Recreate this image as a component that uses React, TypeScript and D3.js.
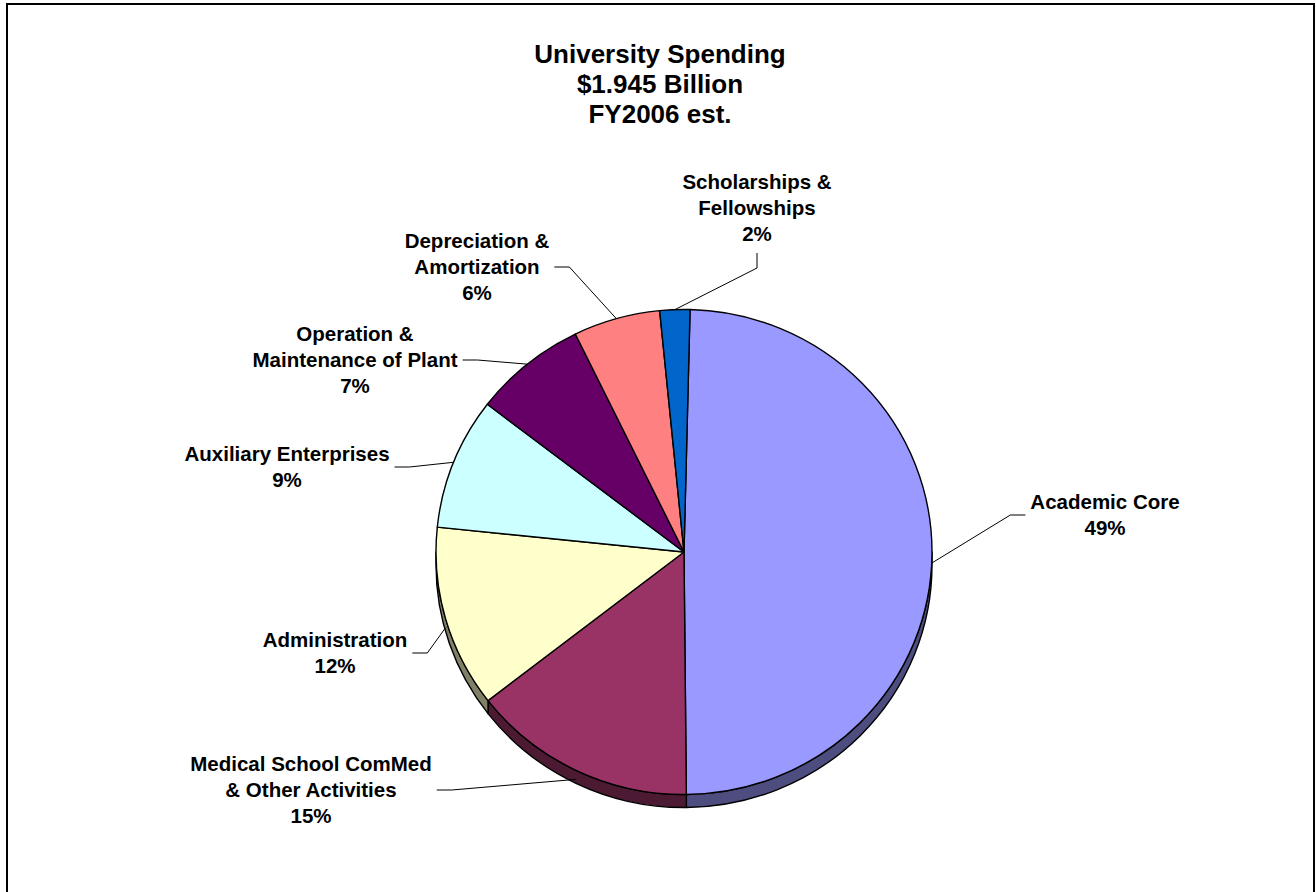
import React from "react";
import * as d3 from "d3";

// ---------- data ----------
const titleLines = ["University Spending", "$1.945 Billion", "FY2006 est."];
const categories = [
  "Academic Core",
  "Medical School ComMed & Other Activities",
  "Administration",
  "Auxiliary Enterprises",
  "Operation & Maintenance of Plant",
  "Depreciation & Amortization",
  "Scholarships & Fellowships",
];
const categoryLines = [
  ["Academic Core"],
  ["Medical School ComMed", "& Other Activities"],
  ["Administration"],
  ["Auxiliary Enterprises"],
  ["Operation &", "Maintenance of Plant"],
  ["Depreciation &", "Amortization"],
  ["Scholarships &", "Fellowships"],
];
// spending in $ millions (total $1,945M)
const spendingMillions = [962, 285, 236, 171, 143, 110, 38];
const sliceColors = ["#9999FF", "#993366", "#FFFFCC", "#CCFFFF", "#660066", "#FF8080", "#0066CC"];

// ---------- layout (not data) ----------
const W = 1316;
const H = 892;
const CX = 684;
const CY = 552;
const RX = 248;
const RY = 242.5;
const DEPTH = 13;
const FIRST_SLICE_ANGLE = (1.4 * Math.PI) / 180;
const LABEL_FONT = 20.5;
const LABEL_LINE = 26;
const TITLE_FONT = 26;
const TITLE_LINE = 30;
const FONT = "'Liberation Sans', Arial, Helvetica, sans-serif";
// label block centre offsets from pie centre, and side the leader leaves from
const labelLayout: { dx: number; dy: number; side: "left" | "right" | "bottom" }[] = [
  { dx: 421, dy: -37, side: "left" },
  { dx: -373, dy: 238, side: "right" },
  { dx: -349, dy: 101, side: "right" },
  { dx: -397, dy: -85, side: "right" },
  { dx: -329, dy: -192, side: "right" },
  { dx: -207, dy: -285, side: "right" },
  { dx: 73, dy: -344, side: "bottom" },
];

function pt(theta: number, dy = 0): [number, number] {
  return [CX + RX * Math.sin(theta), CY - RY * Math.cos(theta) + dy];
}

function darken(c: string, k: number) {
  const r = d3.rgb(c);
  return d3.rgb(r.r * k, r.g * k, r.b * k).formatHex();
}

let ctx: CanvasRenderingContext2D | null = null;
function textWidth(s: string, size: number) {
  if (!ctx) {
    const cv = document.createElement("canvas");
    ctx = cv.getContext("2d");
  }
  if (!ctx) return s.length * size * 0.6;
  ctx.font = `bold ${size}px ${FONT}`;
  return ctx.measureText(s).width;
}

export default function App() {
  const total = d3.sum(spendingMillions);
  const pie = d3
    .pie<number>()
    .sort(null)
    .startAngle(FIRST_SLICE_ANGLE)
    .endAngle(FIRST_SLICE_ANGLE + 2 * Math.PI);
  const arcs = pie(spendingMillions);

  const topPath = (a0: number, a1: number) => {
    const p0 = pt(a0);
    const p1 = pt(a1);
    const large = a1 - a0 > Math.PI ? 1 : 0;
    return `M${CX},${CY}L${p0[0]},${p0[1]}A${RX},${RY} 0 ${large} 1 ${p1[0]},${p1[1]}Z`;
  };

  const sidePath = (a0: number, a1: number) => {
    const s0 = Math.max(a0, Math.PI / 2);
    const s1 = Math.min(a1, (3 * Math.PI) / 2);
    if (s1 <= s0) return null;
    const p0 = pt(s0);
    const p1 = pt(s1);
    const q1 = pt(s1, DEPTH);
    const q0 = pt(s0, DEPTH);
    const large = s1 - s0 > Math.PI ? 1 : 0;
    return `M${p0[0]},${p0[1]}A${RX},${RY} 0 ${large} 1 ${p1[0]},${p1[1]}L${q1[0]},${q1[1]}A${RX},${RY} 0 ${large} 0 ${q0[0]},${q0[1]}Z`;
  };

  const pctFmt = (v: number) => `${Math.round((v / total) * 100)}%`;

  return (
    <svg
      width={W}
      height={H}
      style={{ position: "absolute", left: 0, top: 0, display: "block", background: "#fff" }}
      fontFamily={FONT}
    >
      <rect x={7} y={4} width={1307} height={H + 20} fill="#fff" stroke="#000" strokeWidth={2} />

      <g fontWeight="bold" fontSize={TITLE_FONT} textAnchor="middle">
        {titleLines.map((t, i) => (
          <text key={i} x={660} y={63 + i * TITLE_LINE}>
            {t}
          </text>
        ))}
      </g>

      {/* sides */}
      <g stroke="#000" strokeWidth={1.4} strokeLinejoin="round">
        {arcs.map((a, i) => {
          const d = sidePath(a.startAngle, a.endAngle);
          return d ? <path key={i} d={d} fill={darken(sliceColors[i], 0.5)} /> : null;
        })}
      </g>
      {/* top faces */}
      <g stroke="#000" strokeWidth={1.4} strokeLinejoin="round">
        {arcs.map((a, i) => (
          <path key={i} d={topPath(a.startAngle, a.endAngle)} fill={sliceColors[i]} />
        ))}
      </g>

      {/* labels + leader lines */}
      {arcs.map((a, i) => {
        const lay = labelLayout[i];
        const lines = [...categoryLines[i], pctFmt(a.value)];
        const lcx = CX + lay.dx;
        const lcy = CY + lay.dy;
        const top = lcy - ((lines.length - 1) * LABEL_LINE) / 2;
        const maxW = d3.max(lines, (l) => textWidth(l, LABEL_FONT)) || 0;
        const mid = (a.startAngle + a.endAngle) / 2;
        const lower = Math.cos(mid) < 0;
        const end = pt(mid, lower ? DEPTH * 0.7 : 0);
        let start: [number, number];
        let elbow: [number, number];
        if (lay.side === "right") {
          start = [lcx + maxW / 2 + 5, lcy];
          elbow = [start[0] + 15, lcy];
        } else if (lay.side === "left") {
          start = [lcx - maxW / 2 - 5, lcy];
          elbow = [start[0] - 15, lcy];
        } else {
          start = [lcx, lcy + ((lines.length - 1) * LABEL_LINE) / 2 + 19];
          elbow = [lcx, start[1] + 15];
        }
        return (
          <g key={categories[i]}>
            <polyline
              points={[start, elbow, end].map((p) => p.join(",")).join(" ")}
              fill="none"
              stroke="#000"
              strokeWidth={1}
            />
            <g fontWeight="bold" fontSize={LABEL_FONT} textAnchor="middle">
              {lines.map((l, j) => (
                <text key={j} x={lcx} y={top + j * LABEL_LINE + LABEL_FONT * 0.36}>
                  {l}
                </text>
              ))}
            </g>
          </g>
        );
      })}
    </svg>
  );
}
